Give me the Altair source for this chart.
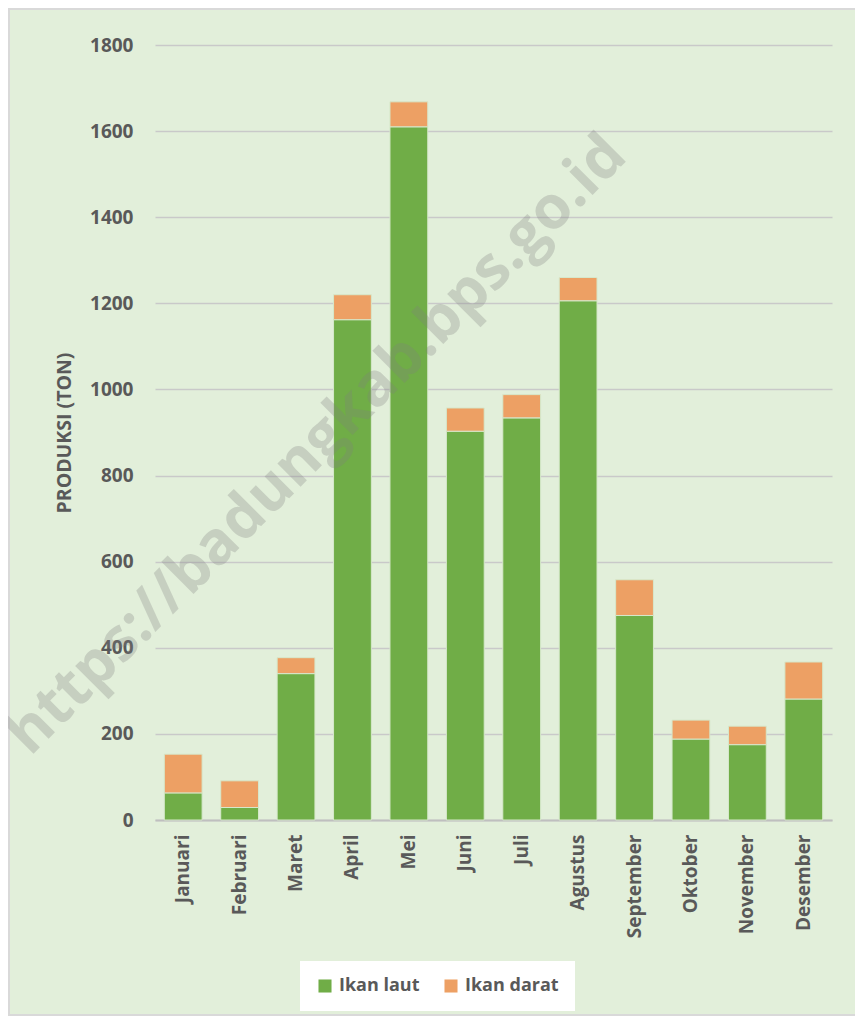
import altair as alt
import pandas as pd

months = ["Januari", "Februari", "Maret", "April", "Mei", "Juni", "Juli",
          "Agustus", "September", "Oktober", "November", "Desember"]
ikan_laut = [63, 29, 340, 1162, 1610, 903, 934, 1206, 475, 188, 175, 281]
ikan_darat = [90, 62, 37, 58, 58, 54, 54, 54, 83, 44, 43, 86]
series = ["Ikan laut", "Ikan darat"]
colors = ["#70AD47", "#EDA064"]
y_ticks = [0, 200, 400, 600, 800, 1000, 1200, 1400, 1600, 1800]
y_title = "PRODUKSI (TON)"
watermark = "https://badungkab.bps.go.id"

rows = []
for i, m in enumerate(months):
    rows.append({"Bulan": m, "Seri": series[0], "Nilai": ikan_laut[i], "urut": 0})
    rows.append({"Bulan": m, "Seri": series[1], "Nilai": ikan_darat[i], "urut": 1})
df = pd.DataFrame(rows)

FONT = "Open Sans"
GREY = "#595959"
W, H = 677, 775

bars = alt.Chart(df).mark_bar(stroke="#D6E8CB", strokeWidth=1).encode(
    x=alt.X("Bulan:N", sort=months,
            scale=alt.Scale(paddingInner=0.33, paddingOuter=0.165),
            axis=alt.Axis(title=None, labelAngle=270, labelAlign="right",
                          labelBaseline="middle", labelPadding=14,
                          labelFont=FONT, labelFontSize=19, labelFontWeight="bold",
                          labelColor=GREY, ticks=False, domainColor="#BFBFBF",
                          domainWidth=2, grid=False)),
    y=alt.Y("Nilai:Q", stack="zero", scale=alt.Scale(domain=[0, 1800], nice=False),
            axis=alt.Axis(title=y_title, values=y_ticks, format="d", ticks=False, domain=False,
                          gridColor="#C9C9C9", gridWidth=1.5,
                          labelFont=FONT, labelFontSize=19, labelFontWeight="bold",
                          labelColor=GREY, labelPadding=22,
                          titleFont=FONT, titleFontSize=19.5, titleFontWeight="bold",
                          titleColor=GREY, titleX=-91, titleY=H / 2,
                          titleAngle=270, titleAlign="center", titleBaseline="middle")),
    color=alt.Color("Seri:N", scale=alt.Scale(domain=series, range=colors),
                    legend=alt.Legend(title=None, orient="none", legendX=145, legendY=916,
                                      direction="horizontal", fillColor="white",
                                      padding=16, symbolType="square", symbolSize=170,
                                      symbolStrokeWidth=0, labelFont=FONT,
                                      labelFontSize=18, labelFontWeight="bold",
                                      labelColor=GREY, columnPadding=22,
                                      labelOffset=5)),
    order=alt.Order("urut:Q"),
)

wm = alt.Chart(pd.DataFrame({"t": [watermark]})).mark_text(
    angle=315, font=FONT, fontSize=60, fontWeight="bold",
    color="#7F7F7F", opacity=0.28, align="center", baseline="middle",
).encode(x=alt.value(162), y=alt.value(400), text="t:N")

border = alt.Chart(pd.DataFrame({"k": [0]})).mark_rect(
    fill=None, stroke="#D9D9D9", strokeWidth=2, clip=False
).encode(x=alt.value(-146), x2=alt.value(W + 30), y=alt.value(-36), y2=alt.value(H + 195))

chart = alt.layer(border, bars, wm).properties(
    width=W, height=H,
    padding={"left": 147, "top": 37, "right": 23, "bottom": 196},
    autosize=alt.AutoSizeParams(type="none"),
).configure(background="#E2EFDA").configure_view(stroke=None)

chart.save("out.html", embed_options={"renderer": "svg", "actions": False})
